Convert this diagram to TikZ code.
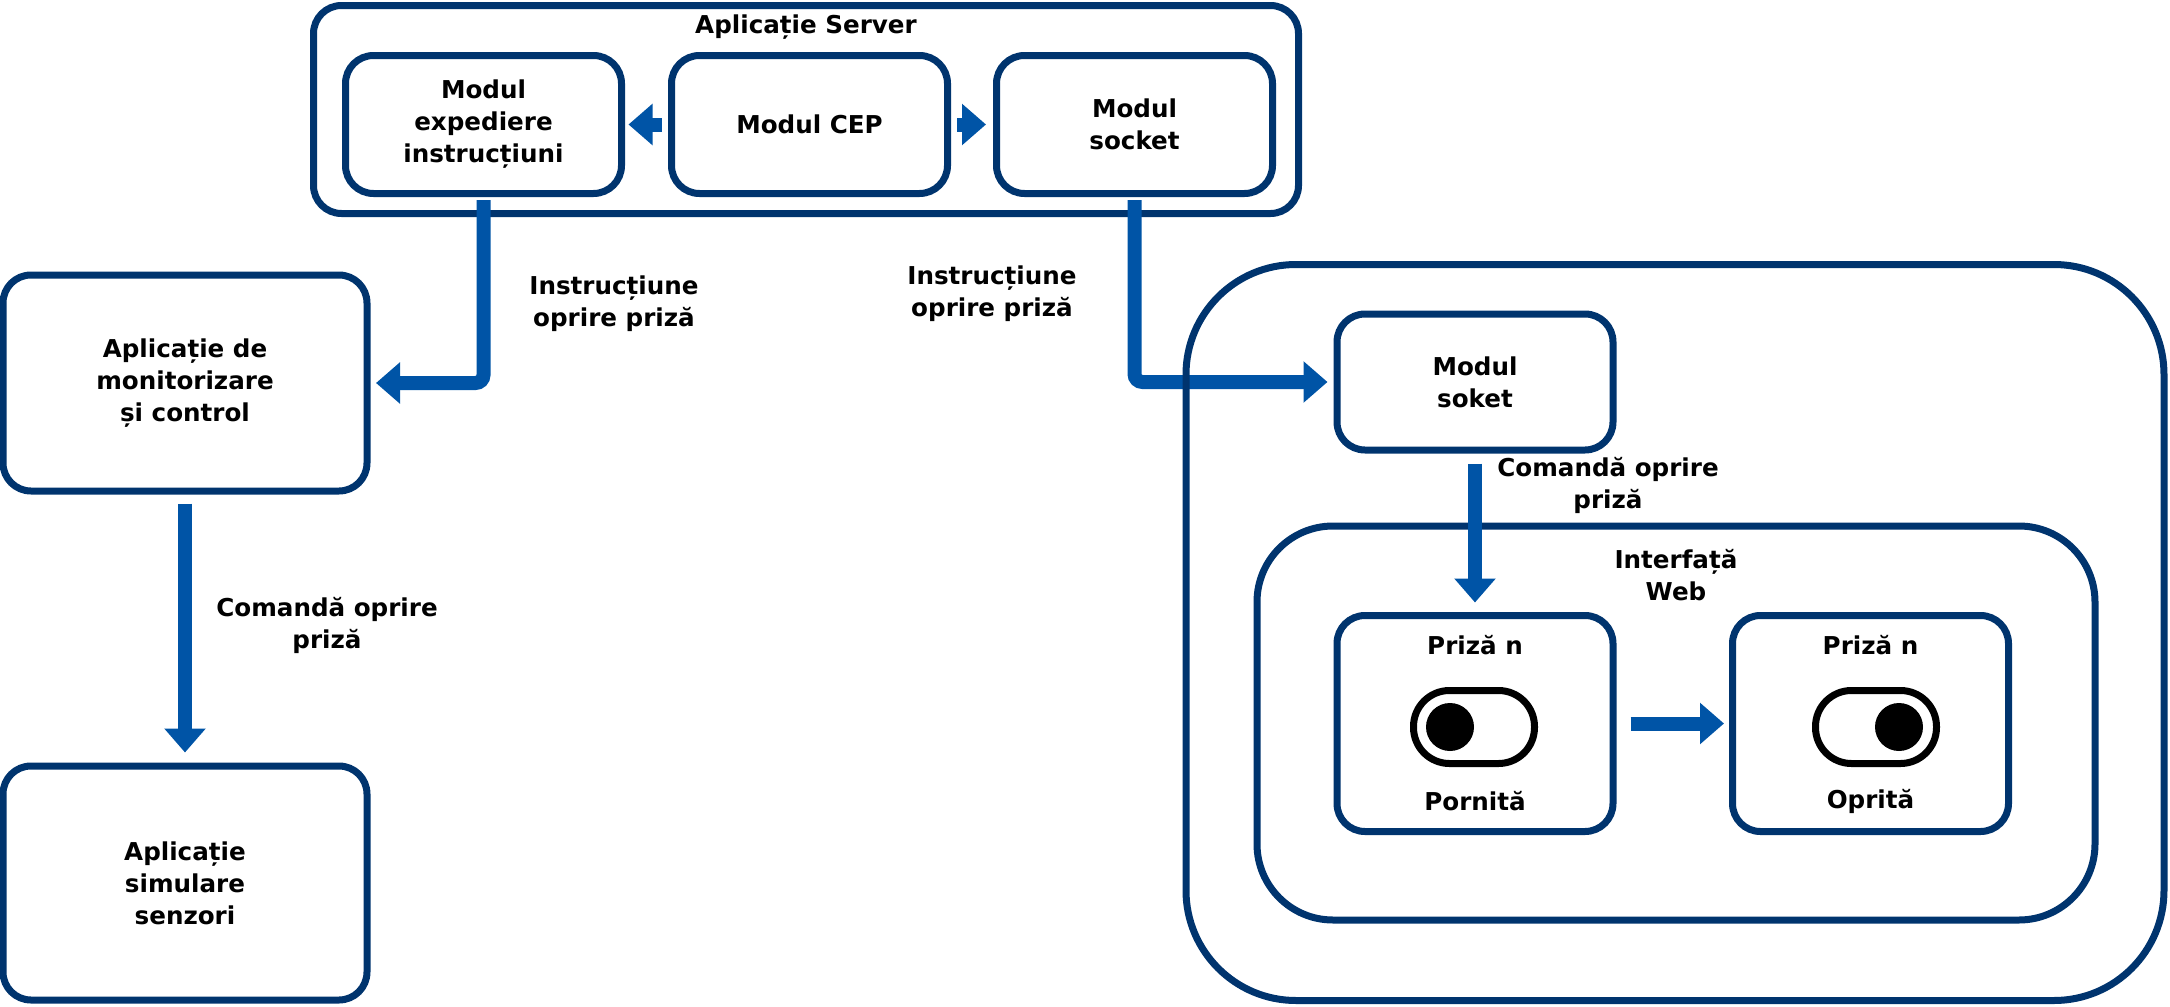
\documentclass[tikz,border=0pt]{standalone}
\usepackage{fontspec}
\setmainfont{DejaVu Sans}
\usepackage{tikz}
\usetikzlibrary{arrows.meta}
\usetikzlibrary{positioning}
\definecolor{navyblue}{RGB}{0,52,110}
\definecolor{flowblue}{RGB}{0,84,166}

\begin{document}
\begin{tikzpicture}[x=0.5pt,y=-0.5pt,
  every node/.style={font=\fontsize{12.3}{16}\selectfont\bfseries},
  box/.style={draw=navyblue, line width=3.5pt, rounded corners=14pt, fill=white,
    align=center, inner sep=0pt, outer sep=0pt},
  flow/.style={draw=flowblue, line width=7pt, -{Triangle[length=12pt,width=20pt]}},
  lbl/.style={align=center, inner sep=0pt}]
\useasboundingbox (0,0) rectangle (2170,1007);
% server side
\node[box, minimum width=492.5pt, minimum height=104pt] (server) at (806,109.5) {};
\node[lbl] (servertitle) at (806,27) {Aplicație Server};
\node[box, minimum width=138pt, minimum height=69pt] (exped) at (483.5,124.5) {Modul\\expediere\\instrucțiuni};
\node[box, minimum width=138pt, minimum height=69pt] (cep) at (809.5,124.5) {Modul CEP};
\node[box, minimum width=138pt, minimum height=69pt] (socket) at (1134.5,124.5) {Modul\\socket};
% monitoring and simulation
\node[box, minimum width=182pt, minimum height=108pt] (monit) at (185,383) {Aplicație de\\monitorizare\\și control};
\node[box, minimum width=182pt, minimum height=117pt] (sim) at (185,883) {Aplicație\\simulare\\senzori};
% client side
\node[box, minimum width=138pt, minimum height=68pt] (soket) at (1475,382) {Modul\\soket};
\node[box, rounded corners=38pt, minimum width=419pt, minimum height=197pt] (web) at (1676,723) {};
\node[lbl] (webtitle) at (1676,575) {Interfață\\Web};
\node[box, minimum width=138pt, minimum height=108pt] (priza1) at (1475,723.5) {};
\node[box, minimum width=138pt, minimum height=108pt] (priza2) at (1870.5,723.5) {};
\node[lbl] (p1title) at (1475,645) {Priză n};
\node[lbl] (p2title) at (1870.5,645) {Priză n};
\node[lbl] (p1state) at (1475,801) {Pornită};
\node[lbl] (p2state) at (1870.5,801) {Oprită};
\foreach \cx/\kx in {1474/1450,1876/1899}{
  \draw[line width=3.5pt, rounded corners=18pt] ({\cx-60.5},690.5) rectangle ({\cx+60.5},763.5);
  \fill (\kx,727) circle (12pt);
}
% arrows
\draw[flow, shorten <=5pt, shorten >=3.5pt] (cep.west) -- (exped.east);
\draw[flow, shorten <=4.75pt, shorten >=5.25pt] (cep.east) -- (socket.west);
\draw[flow, rounded corners=4pt, shorten <=3.25pt, shorten >=4.5pt] (exped.south) |- (monit.east);
\draw[flow, rounded corners=4pt, shorten <=3.25pt, shorten >=4.75pt] (socket.south) |- (soket.west);
\draw[flow, shorten <=6.25pt, shorten >=6.75pt] (monit.south) -- (sim.north);
\draw[flow, shorten <=6.75pt, shorten >=6.5pt] (soket.south) -- (priza1.north);
\draw[flow, shorten <=8.75pt, shorten >=4.25pt] (priza1.east) -- (priza2.west);
\node[box, fill=none, rounded corners=55pt, minimum width=489pt, minimum height=368pt] (client) at (1675,632.5) {};
% labels
\node[lbl] (lblexped) at (614,304) {Instrucțiune\\oprire priză};
\node[lbl] (lblsocket) at (992,294) {Instrucțiune\\oprire priză};
\node[lbl] (lblmonit) at (327,625) {Comandă oprire\\priză};
\node[lbl] (lblsoket) at (1608,485) {Comandă oprire\\priză};
\end{tikzpicture}
\end{document}
